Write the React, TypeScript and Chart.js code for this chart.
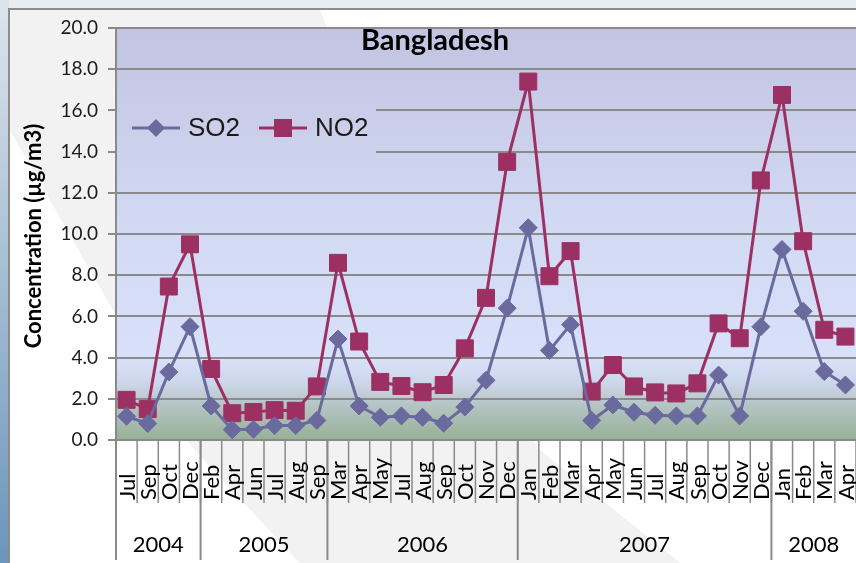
import React, { useEffect, useRef } from 'react';
import { Chart, registerables } from 'chart.js';

Chart.register(...registerables);

const months = ['Jul','Sep','Oct','Dec','Feb','Apr','Jun','Jul','Aug','Sep','Mar','Apr','May','Jul','Aug','Sep','Oct','Nov','Dec','Jan','Feb','Mar','Apr','May','Jun','Jul','Aug','Sep','Oct','Nov','Dec','Jan','Feb','Mar','Apr'];
const years = ['2004', '2005', '2006', '2007', '2008'];
const monthsPerYear = [4, 6, 9, 12, 4];
const so2 = [1.15,0.8,3.3,5.5,1.65,0.5,0.52,0.7,0.7,0.95,4.9,1.65,1.1,1.17,1.1,0.81,1.6,2.9,6.4,10.3,4.35,5.6,0.95,1.7,1.35,1.2,1.17,1.17,3.15,1.17,5.5,9.25,6.25,3.32,2.67];
const no2 = [1.95,1.5,7.45,9.5,3.45,1.3,1.36,1.45,1.42,2.6,8.6,4.78,2.82,2.62,2.32,2.67,4.45,6.9,13.5,17.4,7.95,9.17,2.35,3.64,2.6,2.31,2.26,2.75,5.66,4.94,12.6,16.75,9.65,5.35,5.02];
const seriesNames = ['SO2', 'NO2'];
const chartTitle = 'Bangladesh';
const yTitle = 'Concentration (µg/m3)';

const SO2_COLOR = '#6a6a9f';
const NO2_COLOR = '#9c3063';
const GRID = '#8a8a8a';
const FONT = 'Lato, "Open Sans", sans-serif';

function plotGradient(ctx: CanvasRenderingContext2D, top: number, bottom: number) {
  const g = ctx.createLinearGradient(0, top, 0, bottom);
  g.addColorStop(0, '#c2c4e1');
  g.addColorStop(0.5, '#d3daf4');
  g.addColorStop(0.8, '#d8e1f9');
  g.addColorStop(0.86, '#cdd7ea');
  g.addColorStop(0.91, '#b7c6c8');
  g.addColorStop(1, '#97b095');
  return g;
}

const decor = {
  id: 'decor',
  beforeDraw(chart: any) {
    const ctx = chart.ctx as CanvasRenderingContext2D;
    const W = chart.width, H = chart.height;
    ctx.save();
    ctx.fillStyle = '#e9ecf1';
    ctx.fillRect(0, 0, W, H);
    const lg = ctx.createLinearGradient(0, 0, 0, H);
    lg.addColorStop(0, '#dde4ec');
    lg.addColorStop(1, '#6b95b9');
    ctx.fillStyle = lg;
    ctx.fillRect(0, 0, 9, H);
    ctx.fillStyle = '#ffffff';
    ctx.fillRect(10, 10, W - 10, H - 10);
    ctx.fillStyle = '#f2f2f2';
    ctx.beginPath();
    ctx.moveTo(10, 10);
    ctx.lineTo(320, 10);
    ctx.lineTo(430, 293);
    ctx.lineTo(540, 450);
    ctx.lineTo(680, 563);
    ctx.lineTo(300, 563);
    ctx.lineTo(190, 445);
    ctx.lineTo(50, 200);
    ctx.lineTo(10, 130);
    ctx.closePath();
    ctx.fill();
    ctx.strokeStyle = '#8c8c8c';
    ctx.lineWidth = 2;
    ctx.beginPath();
    ctx.moveTo(9, H);
    ctx.lineTo(9, 9);
    ctx.lineTo(W, 9);
    ctx.stroke();
    const { left, top, right, bottom } = chart.chartArea;
    ctx.fillStyle = plotGradient(ctx, top, bottom);
    ctx.fillRect(left, top, right - left, bottom - top);
    ctx.restore();
  },
  beforeDatasetsDraw(chart: any) {
    const ctx = chart.ctx as CanvasRenderingContext2D;
    const { left, top, bottom } = chart.chartArea;
    ctx.save();
    ctx.fillStyle = plotGradient(ctx, top, bottom);
    ctx.fillRect(left + 1, 100, 375 - left, 58);
    ctx.restore();
  },
  afterDraw(chart: any) {
    const ctx = chart.ctx as CanvasRenderingContext2D;
    const xs = chart.scales.x;
    const { left, right, top, bottom } = chart.chartArea;
    ctx.save();
    // Title
    ctx.fillStyle = '#000';
    ctx.font = `bold 29px ${FONT}`;
    ctx.textAlign = 'center';
    ctx.textBaseline = 'alphabetic';
    ctx.fillText(chartTitle, 435, 50);

    // Legend
    const ly = 128;
    const items = [
      { name: seriesNames[0], color: SO2_COLOR, x0: 132, style: 'diamond' },
      { name: seriesNames[1], color: NO2_COLOR, x0: 259, style: 'square' },
    ];
    ctx.font = '26px "Liberation Sans", Arial, sans-serif';
    ctx.textAlign = 'left';
    ctx.textBaseline = 'middle';
    for (const it of items) {
      ctx.strokeStyle = it.color;
      ctx.lineWidth = 3;
      ctx.beginPath();
      ctx.moveTo(it.x0, ly);
      ctx.lineTo(it.x0 + 48, ly);
      ctx.stroke();
      const cx = it.x0 + 24;
      ctx.fillStyle = it.color;
      ctx.beginPath();
      if (it.style === 'diamond') {
        ctx.moveTo(cx - 9, ly);
        ctx.lineTo(cx, ly - 9);
        ctx.lineTo(cx + 9, ly);
        ctx.lineTo(cx, ly + 9);
        ctx.closePath();
      } else {
        ctx.rect(cx - 9, ly - 9, 18, 18);
      }
      ctx.fill();
      ctx.fillStyle = '#1a1a1a';
      ctx.fillText(it.name, it.x0 + 56, ly + 1);
    }

    // Y axis title
    ctx.save();
    ctx.translate(34, (top + bottom) / 2 + 2);
    ctx.rotate(-Math.PI / 2);
    ctx.font = `bold 22px ${FONT}`;
    ctx.textAlign = 'center';
    ctx.textBaseline = 'middle';
    ctx.fillStyle = '#000';
    ctx.fillText(yTitle, 0, 0);
    ctx.restore();

    // Category boundaries
    const n = months.length;
    const bounds: number[] = [];
    for (let k = 0; k <= n; k++) {
      if (k === 0) bounds.push(left);
      else if (k === n) bounds.push(right);
      else bounds.push((xs.getPixelForValue(k - 1) + xs.getPixelForValue(k)) / 2);
    }
    ctx.strokeStyle = GRID;
    ctx.lineWidth = 1.5;
    for (let k = 0; k <= n; k++) {
      ctx.beginPath();
      ctx.moveTo(bounds[k], bottom);
      ctx.lineTo(bounds[k], 503);
      ctx.stroke();
    }
    // year boundaries
    let acc = 0;
    const yb = [0];
    for (const c of monthsPerYear) { acc += c; yb.push(acc); }
    ctx.lineWidth = 2;
    for (let j = 0; j < yb.length; j++) {
      const k = yb[j];
      if (k >= n) continue;
      ctx.beginPath();
      ctx.moveTo(bounds[k], k === 0 ? top : bottom);
      ctx.lineTo(bounds[k], 560);
      ctx.stroke();
    }

    // Month labels
    ctx.fillStyle = '#000';
    ctx.font = `22px ${FONT}`;
    ctx.textBaseline = 'middle';
    ctx.textAlign = 'left';
    for (let i = 0; i < n; i++) {
      const x = xs.getPixelForValue(i);
      ctx.save();
      ctx.translate(x + 1, 500);
      ctx.rotate(-Math.PI / 2);
      ctx.fillText(months[i], 0, 0);
      ctx.restore();
    }
    // Year labels
    ctx.textAlign = 'center';
    ctx.font = `22px ${FONT}`;
    for (let j = 0; j < years.length; j++) {
      const a = bounds[yb[j]];
      const b = bounds[Math.min(yb[j + 1], n)];
      ctx.fillText(years[j], (a + b) / 2, 545);
    }
    ctx.restore();
  },
};

export default function App() {
  const ref = useRef<HTMLCanvasElement | null>(null);
  useEffect(() => {
    if (!ref.current) return;
    const chart = new Chart(ref.current, {
      type: 'line',
      data: {
        labels: months,
        datasets: [
          {
            label: seriesNames[0],
            data: so2,
            borderColor: SO2_COLOR,
            backgroundColor: SO2_COLOR,
            borderWidth: 3,
            pointStyle: 'rectRot',
            pointRadius: 9,
            pointBorderWidth: 1,
            pointBorderColor: SO2_COLOR,
            pointBackgroundColor: SO2_COLOR,
            tension: 0,
            clip: 20,
          },
          {
            label: seriesNames[1],
            data: no2,
            borderColor: NO2_COLOR,
            backgroundColor: NO2_COLOR,
            borderWidth: 3,
            pointStyle: 'rect',
            pointRadius: 12,
            pointBorderWidth: 1,
            pointBorderColor: NO2_COLOR,
            pointBackgroundColor: NO2_COLOR,
            tension: 0,
            clip: 20,
          },
        ],
      },
      options: {
        responsive: false,
        animation: false,
        devicePixelRatio: 1,
        layout: { autoPadding: false, padding: { left: 0, top: 28, right: 0, bottom: 0 } },
        plugins: {
          legend: { display: false },
          title: { display: false },
          tooltip: { enabled: false },
        },
        scales: {
          x: {
            type: 'category',
            offset: true,
            grid: { display: false },
            border: { display: true, color: GRID, width: 2 },
            ticks: { display: false },
            afterFit: (s: any) => { s.height = 123; },
          },
          y: {
            min: 0,
            max: 20,
            afterFit: (s: any) => { s.width = 116; },
            ticks: {
              stepSize: 2,
              padding: 10,
              color: '#1a1a1a',
              font: { family: FONT, size: 19 },
              callback: (v: any) => Number(v).toFixed(1),
            },
            grid: { color: GRID, lineWidth: 2, tickLength: 8, drawTicks: true },
            border: { display: true, color: GRID, width: 2 },
          },
        },
      },
      plugins: [decor],
    });
    return () => chart.destroy();
  }, []);
  return (
    <div style={{ position: 'fixed', left: 0, top: 0, width: 856, height: 563, overflow: 'hidden' }}>
      <canvas ref={ref} width={856} height={563} style={{ display: 'block' }} />
    </div>
  );
}
